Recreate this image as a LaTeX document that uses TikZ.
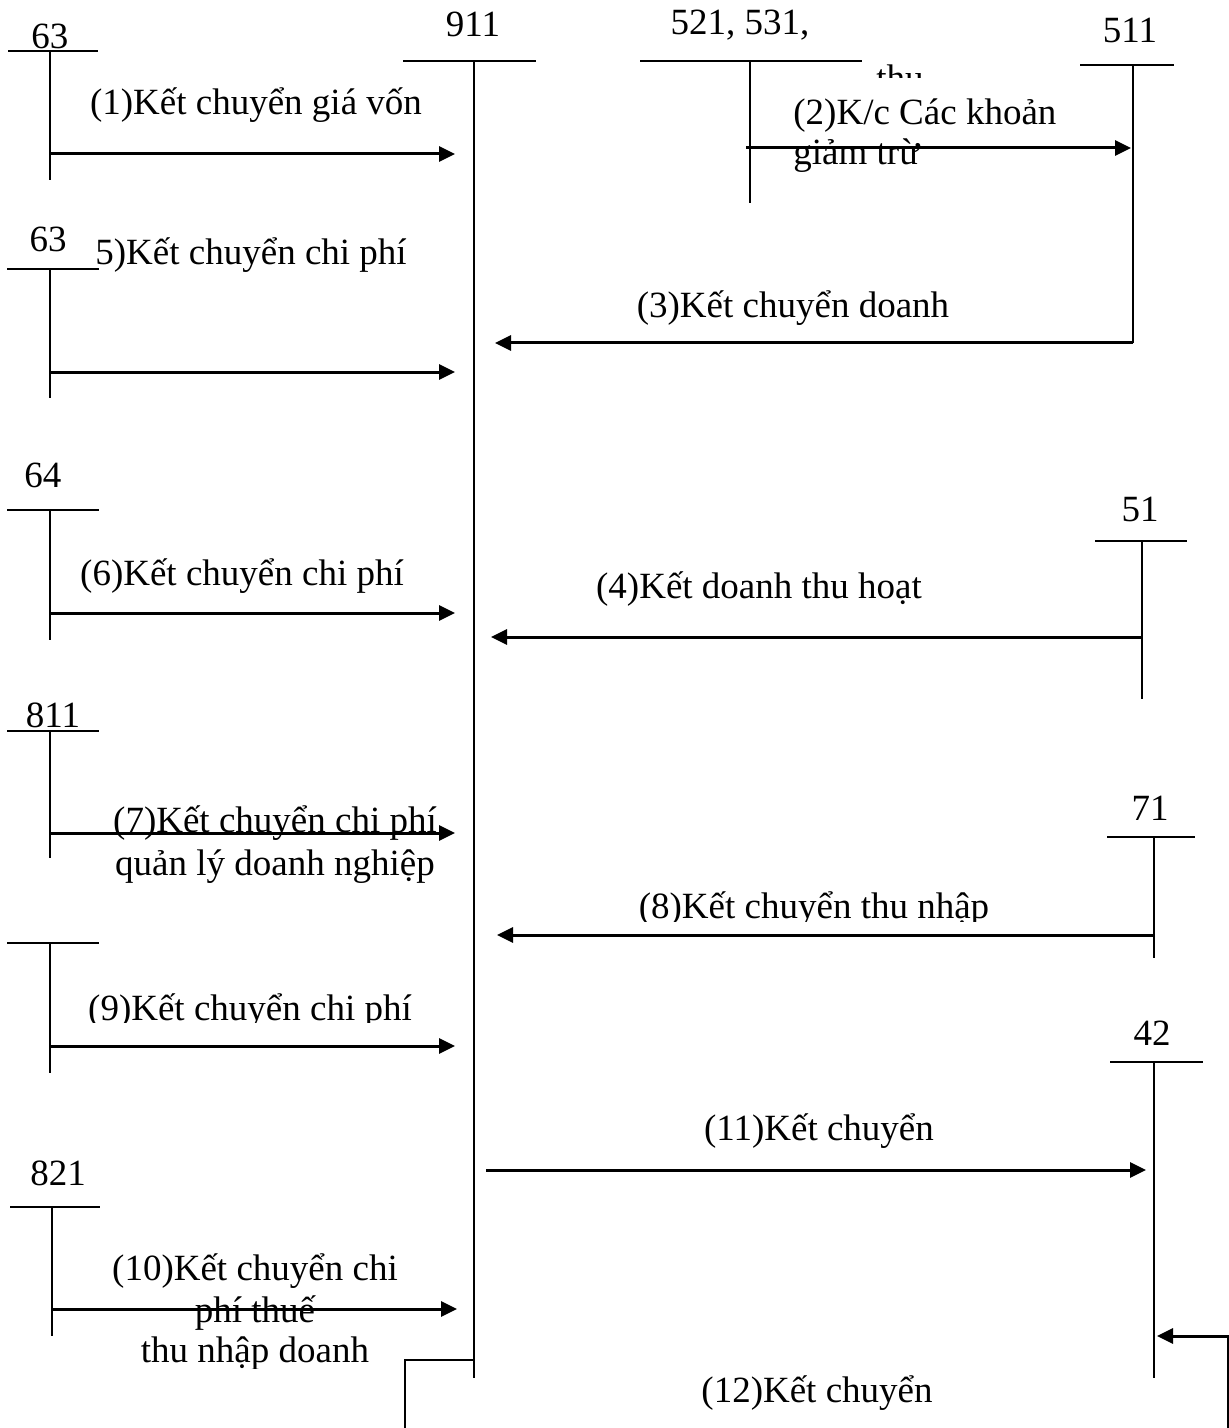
\documentclass[tikz,border=0pt]{standalone}
\usepackage{fontspec}
\setmainfont{Liberation Serif}
\usetikzlibrary{arrows.meta}

\tikzset{
  tline/.style={line width=1pt},
  flow/.style={line width=1.5pt, -{Triangle[length=8pt,width=7.5pt]}},
  lbl/.style={anchor=base, inner sep=0pt, font=\fontsize{18.5pt}{21pt}\selectfont},
}

\begin{document}
\begin{tikzpicture}[x=0.5pt,y=-0.5pt]
  \useasboundingbox (0,0) rectangle (1229,1428);

  % --- tài khoản chữ T (1 đơn vị = 1 px) ---
  \foreach \id/\txt/\lx/\lb/\ly/\xa/\xb/\vx/\vb in {
      a63/63/50/49/51/8/98/50/180,
      b63/63/48/252/269/7/99/50/398,
      a64/64/43/487/510/7/99/50/640,
      a811/811/53/727/731/7/99/50/858,
      blank/{}/50/930/943/7/99/50/1073,
      a821/821/58/1185/1207/10/100/52/1336,
      a911/911/473/37/61/403/536/474/1378,
      a521/{521, 531,}/740/35/61/640/862/750/203,
      a511/511/1130/43/65/1080/1174/1133/343,
      a51/51/1140/521/541/1095/1187/1142/699,
      a71/71/1150/820/837/1107/1195/1154/958,
      a42/42/1152/1045/1062/1110/1203/1154/1378}
  {
    \node[lbl] (n\id) at (\lx,\lb) {\txt};
    \draw[tline] (\xa,\ly) -- (\xb,\ly);
    \coordinate (t\id) at (\vx,\ly);
    \coordinate (b\id) at (\vx,\vb);
    \draw[tline] (t\id) -- (b\id);
  }

  % --- bút toán kết chuyển ---
  \foreach \i/\xa/\xb/\y in {1/51/455/154, 2/746/1131/148, 3/1133/495/343,
      5/50/455/372, 6/50/455/613, 4/1142/491/637, 7/50/455/833,
      8/1155/497/935, 9/50/455/1046, 11/486/1146/1170, 10/52/457/1309}
  {
    \coordinate (s\i) at (\xa,\y);
    \coordinate (e\i) at (\xb,\y);
    \draw[flow] (s\i) -- (e\i);
  }

  % --- (12) kết chuyển lãi/lỗ ---
  \coordinate (k12a) at (474,1360);
  \coordinate (k12b) at (405,1428);
  \draw[tline] (k12a) -| (k12b);
  \coordinate (k12c) at (1228,1428);
  \coordinate (k12d) at (1157,1336);
  \draw[flow] (k12c) |- (k12d);

  % --- nhãn ---
  \node[lbl] (l1) at (256,115) {(1)Kết chuyển giá vốn};
  \node[lbl, anchor=base west] (l2a) at (793,125) {(2)K/c Các khoản};
  \node[lbl, anchor=base west] (l2b) at (793,165) {giảm trừ};
  \node[lbl] (l3) at (793,318) {(3)Kết chuyển doanh};
  \node[lbl, anchor=base west] (l5) at (95,265) {5)Kết chuyển chi phí};
  \node[lbl] (l6) at (242,585) {(6)Kết chuyển chi phí};
  \node[lbl] (l4) at (759,598) {(4)Kết doanh thu hoạt};
  \node[lbl] (l7a) at (275,832) {(7)Kết chuyển chi phí};
  \node[lbl] (l7b) at (275,875) {quản lý doanh nghiệp};
  \node[lbl] (l11) at (819,1140) {(11)Kết chuyển};
  \node[lbl] (l10a) at (255,1280) {(10)Kết chuyển chi};
  \node[lbl] (l10b) at (255,1322) {phí thuế};
  \node[lbl] (l12) at (817,1402) {(12)Kết chuyển};

  % nhãn bị cắt mép dưới
  \begin{scope}
    \clip (860,60) rectangle (940,78);
    \node[lbl] (lthu) at (900,91) {thu};
  \end{scope}
  \begin{scope}
    \clip (560,860) rectangle (1100,921);
    \node[lbl] (l8) at (814,918) {(8)Kết chuyển thu nhập};
  \end{scope}
  \begin{scope}
    \clip (60,960) rectangle (440,1022);
    \node[lbl] (l9) at (250,1020) {(9)Kết chuyển chi phí};
  \end{scope}
  \begin{scope}
    \clip (100,1325) rectangle (420,1368);
    \node[lbl] (l10c) at (255,1362) {thu nhập doanh};
  \end{scope}
\end{tikzpicture}
\end{document}
